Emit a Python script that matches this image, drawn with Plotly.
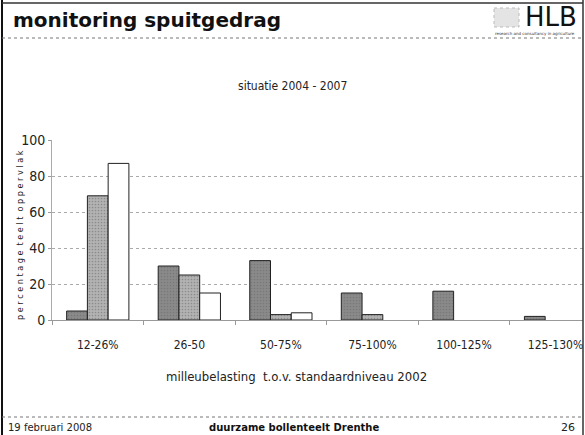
import plotly.graph_objects as go

categories = ["12-26%", "26-50", "50-75%", "75-100%", "100-125%", "125-130%"]
series_a = [5, 30, 33, 15, 16, 2]
series_b = [69, 25, 3, 3, None, None]
series_c = [87, 15, 4, None, None, None]
y_ticks = [0, 20, 40, 60, 80, 100]

W, H = 585, 435
def px(x): return x / W
def py(y): return 1 - y / H

NARROW = "DejaVu Sans Condensed, Liberation Sans Narrow, Arial Narrow, sans-serif"

fig = go.Figure()
fills = ["#8a8a8a", "#b3b3b3", "#ffffff"]
for vals, col, name in zip([series_a, series_b, series_c], fills, ["a", "b", "c"]):
    marker = dict(color=col, line=dict(color="#222222", width=1))
    if col != "#ffffff":
        marker["pattern"] = dict(shape=".", fgcolor="#666666", size=3, solidity=0.25)
    fig.add_trace(go.Bar(x=categories, y=vals, name=name, marker=marker, showlegend=False))

fig.update_layout(
    width=W, height=H,
    margin=dict(l=0, r=0, t=0, b=0, autoexpand=False),
    paper_bgcolor="white", plot_bgcolor="white",
    barmode="group", bargap=0.32, bargroupgap=0,
    xaxis=dict(domain=[px(52), px(583)], range=[-0.5, 5.3], automargin=False,
               tickfont=dict(family=NARROW, size=12, color="#222"),
               ticks="outside", tickson="boundaries", ticklen=4, tickcolor="#999",
               ticklabelstandoff=14,
               showline=True, linecolor="#999", linewidth=1,
               showgrid=False, fixedrange=True),
    yaxis=dict(domain=[py(320), py(140)], range=[0, 100], tickvals=y_ticks, automargin=False,
               tickfont=dict(family=NARROW, size=14, color="#222"),
               ticks="outside", ticklen=3, tickcolor="#999",
               showline=True, linecolor="#aaa", linewidth=1,
               showgrid=True, gridcolor="#aaa", griddash="dot", gridwidth=1,
               zeroline=False, fixedrange=True),
    font=dict(family=NARROW),
)

ann = []
def text(x, y, s, size, family=NARROW, bold=False, xanchor="center", color="#222", angle=0):
    if bold:
        s = "<b>" + s + "</b>"
    ann.append(dict(x=px(x), y=py(y), xref="paper", yref="paper", text=s, showarrow=False,
                    xanchor=xanchor, yanchor="middle", textangle=angle,
                    font=dict(family=family, size=size, color=color)))

text(292, 86, "situatie 2004 - 2007", 12)
text(296, 376, "milleubelasting  t.o.v. standaardniveau 2002", 13)
text(20, 235, "p e r c e n t a g e  t e e l t  o p p e r v l a k", 9, angle=-90)
text(11, 20, "monitoring spuitgedrag", 20, family="DejaVu Sans", bold=True, xanchor="left", color="#111")
text(551, 17, "HLB", 26, family="DejaVu Sans", xanchor="center", color="#111")
text(535, 33, "research and consultancy in agriculture", 4, family="DejaVu Sans", color="#333")
text(6, 427, "19 februari 2008", 10, family="DejaVu Sans", xanchor="left", color="#222")
text(294, 427, "duurzame bollenteelt Drenthe", 10, family="DejaVu Sans", bold=True, color="#111")
text(577, 427, "26", 11, family="DejaVu Sans", xanchor="right", color="#222")
fig.update_layout(annotations=ann)

shapes = [
    dict(type="line", xref="paper", yref="paper", x0=px(2), x1=px(2), y0=py(0), y1=py(435),
         line=dict(color="#111", width=2)),
    dict(type="line", xref="paper", yref="paper", x0=px(583), x1=px(583), y0=py(0), y1=py(435),
         line=dict(color="#333", width=1.5)),
    dict(type="line", xref="paper", yref="paper", x0=px(2), x1=px(583), y0=py(3), y1=py(3),
         line=dict(color="#333", width=1.5)),
    dict(type="line", xref="paper", yref="paper", x0=px(2), x1=px(583), y0=py(38), y1=py(38),
         line=dict(color="#777", width=1, dash="dot")),
    dict(type="line", xref="paper", yref="paper", x0=px(2), x1=px(583), y0=py(417), y1=py(417),
         line=dict(color="#777", width=1, dash="dot")),
    dict(type="rect", xref="paper", yref="paper", x0=px(494), x1=px(519), y0=py(8), y1=py(27),
         line=dict(color="#bbb", width=1, dash="dot"), fillcolor="#e4e4e4"),
]
fig.update_layout(shapes=shapes)

fig.write_html("out.html", config={"displayModeBar": False},
               post_script="document.body.style.margin='0';")
